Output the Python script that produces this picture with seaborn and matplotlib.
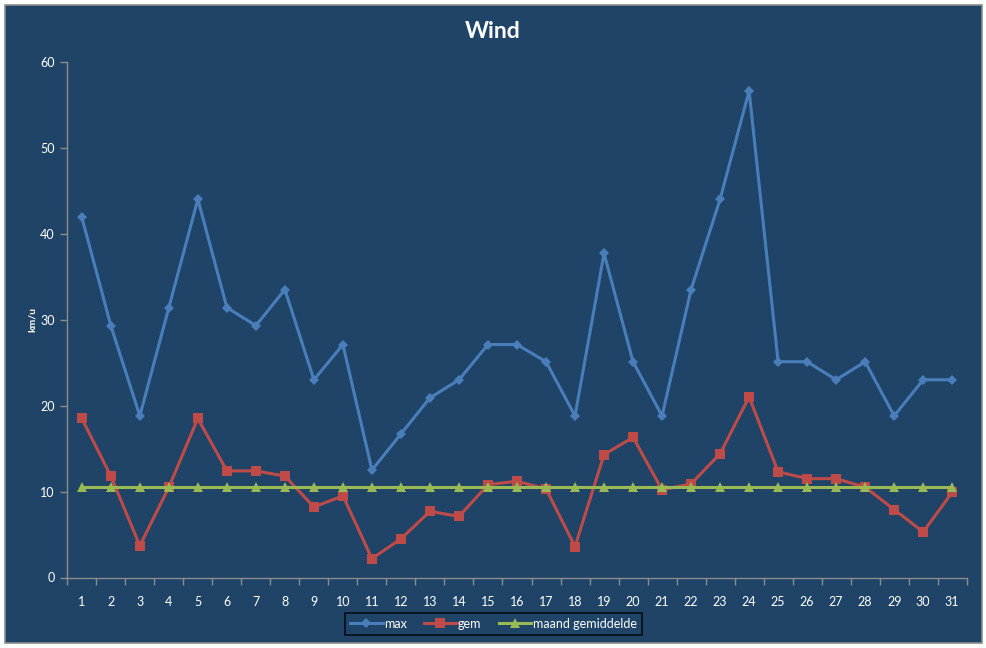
import matplotlib
matplotlib.use("Agg")
import matplotlib.pyplot as plt
import matplotlib.patches as mpatches
import seaborn as sns
import pandas as pd

days = list(range(1, 32))
max_wind = [41.9, 29.3, 18.8, 31.4, 44.0, 31.4, 29.3, 33.5, 23.0, 27.1,
            12.5, 16.7, 20.9, 23.0, 27.1, 27.1, 25.1, 18.8, 37.7, 25.1,
            18.8, 33.5, 44.0, 56.6, 25.1, 25.1, 23.0, 25.1, 18.8, 23.0, 23.0]
gem_wind = [18.5, 11.8, 3.7, 10.5, 18.5, 12.4, 12.4, 11.8, 8.2, 9.5,
            2.2, 4.5, 7.7, 7.1, 10.8, 11.2, 10.3, 3.6, 14.3, 16.3,
            10.2, 10.9, 14.4, 21.0, 12.3, 11.5, 11.5, 10.5, 7.9, 5.3, 9.9]
maand_gem = [10.55, 10.55, 10.55, 10.55, 10.55, 10.55, 10.55, 10.55, 10.55, 10.55,
             10.55, 10.55, 10.55, 10.55, 10.55, 10.55, 10.55, 10.55, 10.55, 10.55,
             10.55, 10.55, 10.55, 10.55, 10.55, 10.55, 10.55, 10.55, 10.55, 10.55, 10.55]
series_names = ["max", "gem", "maand gemiddelde"]
y_ticks = [0, 10, 20, 30, 40, 50, 60]

BG = "#1F4467"
AXC = "#8C8C8C"
plt.rcParams['font.family'] = ['Lato', 'DejaVu Sans']

W, H = 987, 648
fig = plt.figure(figsize=(W / 100, H / 100), dpi=100)
fig.patch.set_facecolor("white")
bg = mpatches.Rectangle((5.5 / W, 1 - 643 / H), 976.5 / W, 638 / H,
                        transform=fig.transFigure, facecolor=BG,
                        edgecolor="#8C8C8C", linewidth=1.2, zorder=-10)
fig.patches.append(bg)

ax = fig.add_axes([67.3 / W, 1 - 577.5 / H, (966.7 - 67.3) / W, (577.5 - 61.7) / H])
ax.set_facecolor("none")
ax.set_zorder(2)

df = pd.DataFrame({"dag": days, "max": max_wind, "gem": gem_wind, "maand": maand_gem})

sns.lineplot(data=df, x="dag", y="max", ax=ax, color="#4A7EBB", marker="D",
             markersize=5.5, markeredgewidth=0, linewidth=2.2, label=series_names[0], zorder=3)
sns.lineplot(data=df, x="dag", y="gem", ax=ax, color="#BE4B48", marker="s",
             markersize=7.5, markeredgewidth=0, linewidth=2.2, label=series_names[1], zorder=4)
sns.lineplot(data=df, x="dag", y="maand", ax=ax, color="#98B954", marker="^",
             markersize=6.5, markeredgewidth=0, linewidth=2.2, label=series_names[2], zorder=5)

ax.set_xlim(0.5, 31.5)
ax.set_ylim(0, 60)
ax.set_yticks(y_ticks)
ax.set_xticks(days)
ax.set_xticks([d - 0.5 for d in days] + [31.5], minor=True)
ax.tick_params(axis="x", which="major", length=0, pad=13, labelcolor="white", labelsize=9)
ax.tick_params(axis="x", which="minor", length=5, color=AXC, width=1)
ax.tick_params(axis="y", which="major", length=5, color=AXC, width=1,
               labelcolor="white", labelsize=9, pad=4)
for s in ["top", "right"]:
    ax.spines[s].set_visible(False)
for s in ["left", "bottom"]:
    ax.spines[s].set_color(AXC)
    ax.spines[s].set_linewidth(1)
ax.grid(False)
ax.set_xlabel("")
ax.set_ylabel("")
if ax.get_legend():
    ax.get_legend().remove()

fig.text(493 / W, 1 - 31 / H, "Wind", color="white", fontsize=16.5, fontweight="bold",
         ha="center", va="center")
fig.text(32 / W, 1 - 320 / H, "km/u", color="white", fontsize=7.5, fontweight="bold",
         ha="center", va="center", rotation=90)

handles, labels = ax.get_legend_handles_labels()
leg = fig.legend(handles, labels, loc="center", bbox_to_anchor=(493.4 / W, 1 - 623.5 / H),
                 ncol=3, frameon=True, fancybox=False, fontsize=9, handlelength=2.6,
                 handletextpad=0.1, columnspacing=1.4, borderpad=0.4)
leg.get_frame().set_facecolor("none")
leg.get_frame().set_edgecolor("black")
leg.get_frame().set_linewidth(1.2)
for t in leg.get_texts():
    t.set_color("white")

fig.savefig("out.png", dpi=100, facecolor=fig.get_facecolor())
